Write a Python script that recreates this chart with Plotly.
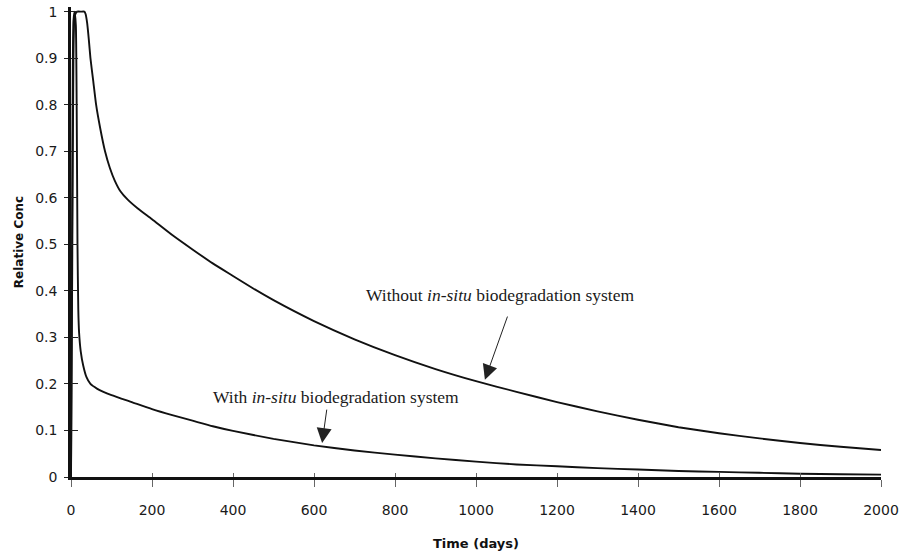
import plotly.graph_objects as go

# Relative concentration over time, without the in-situ biodegradation system
days_without = [0, 3, 6, 9, 15, 25, 33, 36, 40, 44, 48, 55, 62, 72, 84, 96, 108, 122, 140,
                165, 200, 250, 300, 350, 400, 450, 500, 600, 700, 800, 900, 1000, 1100,
                1200, 1300, 1400, 1500, 1600, 1700, 1800, 1900, 2000]
conc_without = [0, 0.45, 0.9, 0.99, 1.0, 1.0, 1.0, 0.995, 0.975, 0.94, 0.9, 0.85, 0.8,
                0.75, 0.7, 0.664, 0.637, 0.614, 0.596, 0.577, 0.554, 0.52, 0.489, 0.459,
                0.432, 0.405, 0.38, 0.335, 0.296, 0.262, 0.232, 0.206, 0.183, 0.161,
                0.141, 0.123, 0.107, 0.094, 0.083, 0.073, 0.065, 0.058]

# Relative concentration over time, with the in-situ biodegradation system
days_with = [0, 3, 6, 9, 12, 14, 16, 18, 20, 24, 30, 38, 48, 64, 80, 100, 150, 200, 250,
             300, 350, 400, 500, 600, 700, 800, 900, 1000, 1100, 1200, 1300, 1400, 1500,
             1600, 1700, 1800, 1900, 2000]
conc_with = [0, 0.6, 0.98, 1.0, 0.97, 0.8, 0.5, 0.36, 0.31, 0.27, 0.24, 0.215, 0.2, 0.19,
             0.183, 0.176, 0.161, 0.146, 0.133, 0.121, 0.109, 0.099, 0.082, 0.068, 0.057,
             0.048, 0.04, 0.033, 0.027, 0.023, 0.019, 0.016, 0.013, 0.011, 0.009, 0.007,
             0.006, 0.005]

x_ticks = [0, 200, 400, 600, 800, 1000, 1200, 1400, 1600, 1800, 2000]
y_ticks = [0, 0.1, 0.2, 0.3, 0.4, 0.5, 0.6, 0.7, 0.8, 0.9, 1]
y_tick_text = ["0", "0.1", "0.2", "0.3", "0.4", "0.5", "0.6", "0.7", "0.8", "0.9", "1"]

label_without = "Without <i>in-situ</i> biodegradation system"
label_with = "With <i>in-situ</i> biodegradation system"

X_RANGE = [0, 2000]
Y_RANGE = [0, 1.01]

tick_font = dict(family="DejaVu Sans, Arial, sans-serif", size=14, color="#1a1a1a")
title_font = dict(family="DejaVu Sans, Arial, sans-serif", size=12, color="#111",
                  weight="bold")
serif_font = dict(family="Liberation Serif, Times New Roman, serif", size=17.5,
                  color="#1a1a1a")

curve_line = dict(color="#111", width=1.9, shape="spline", smoothing=0.5)

fig = go.Figure()
fig.add_trace(go.Scatter(x=days_without, y=conc_without, mode="lines",
                         line=curve_line, hoverinfo="skip"))
fig.add_trace(go.Scatter(x=days_with, y=conc_with, mode="lines",
                         line=curve_line, hoverinfo="skip"))
# empty trace so the overlay axes (inner half of the tick marks) get drawn
fig.add_trace(go.Scatter(x=[], y=[], xaxis="x2", yaxis="y2", hoverinfo="skip"))

fig.update_layout(
    width=906, height=555,
    margin=dict(l=71, r=25, t=7, b=78),
    paper_bgcolor="white", plot_bgcolor="white",
    showlegend=False,
    xaxis=dict(range=X_RANGE, tickvals=x_ticks, ticktext=[str(v) for v in x_ticks],
               showgrid=False, zeroline=False, showline=True, linewidth=2.5,
               linecolor="#111", ticks="outside", ticklen=7, tickwidth=1,
               tickcolor="#666", tickfont=tick_font, ticklabelstandoff=11,
               automargin=False,
               title=dict(text="Time (days)", font=dict(title_font, size=13),
                          standoff=23)),
    yaxis=dict(range=Y_RANGE, tickvals=y_ticks, ticktext=y_tick_text,
               showgrid=False, zeroline=False, showline=True, linewidth=2.5,
               linecolor="#111", ticks="outside", ticklen=4, tickwidth=1.2,
               tickcolor="#222", tickfont=tick_font, ticklabelstandoff=4,
               automargin=False,
               title=dict(text="Relative Conc", font=title_font, standoff=9)),
    xaxis2=dict(overlaying="x", anchor="y", side="bottom", range=X_RANGE,
                tickvals=x_ticks, ticks="inside", ticklen=4, tickwidth=1,
                tickcolor="#666", showticklabels=False, showgrid=False,
                zeroline=False, showline=False, automargin=False),
    yaxis2=dict(overlaying="y", anchor="x", side="left", range=Y_RANGE,
                tickvals=y_ticks, ticks="inside", ticklen=7, tickwidth=1.2,
                tickcolor="#222", showticklabels=False, showgrid=False,
                zeroline=False, showline=False, automargin=False),
)

# curve labels with arrows pointing at each curve
fig.add_annotation(x=1059, y=0.391, xref="x", yref="y", text=label_without,
                   showarrow=False, font=serif_font)
fig.add_annotation(x=1022, y=0.209, ax=1079, ay=0.348, xref="x", yref="y",
                   axref="x", ayref="y", text="", showarrow=True, arrowhead=2,
                   arrowsize=3, arrowwidth=1, arrowcolor="#222")
fig.add_annotation(x=654, y=0.172, xref="x", yref="y", text=label_with,
                   showarrow=False, font=serif_font)
fig.add_annotation(x=620, y=0.073, ax=632, ay=0.148, xref="x", yref="y",
                   axref="x", ayref="y", text="", showarrow=True, arrowhead=2,
                   arrowsize=3, arrowwidth=1, arrowcolor="#222")

fig.write_html("out.html")
